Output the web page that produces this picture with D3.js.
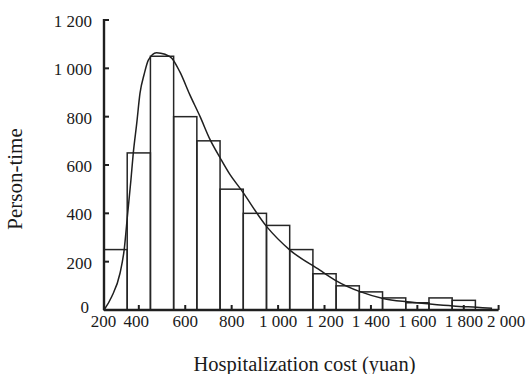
<!DOCTYPE html>
<html>
<head>
<meta charset="utf-8">
<script src="https://cdn.jsdelivr.net/npm/d3@7"></script>
<style>
  html, body { margin: 0; padding: 0; background: #fff; }
  svg { display: block; }
  text { font-family: "Liberation Serif", "Times New Roman", serif; fill: #1a1a1a; }
</style>
</head>
<body>
<svg id="chart" width="532" height="374" font-family="Liberation Serif, Times New Roman, serif"></svg>
<script>
// Histogram bins (lower edge, upper edge) and counts
const binStarts = [250, 350, 450, 550, 650, 750, 850, 950, 1050, 1150, 1250, 1350, 1450, 1550, 1650, 1750];
const binEnds   = [350, 450, 550, 650, 750, 850, 950, 1050, 1150, 1250, 1350, 1450, 1550, 1650, 1750, 1850];
const counts    = [250, 650, 1050, 800, 700, 500, 400, 350, 250, 150, 100, 75, 50, 30, 50, 40];

// Fitted density curve
const curveX = [250, 283, 319, 337, 352, 366, 376, 391, 405, 424, 441, 476, 513, 543, 577, 620, 664, 707, 750, 793, 839, 951, 1051, 1180, 1245, 1353, 1452, 1555, 1654, 1754, 1856, 1922];
const curveY = [0, 55, 152, 250, 400, 538, 648, 772, 896, 979, 1034, 1065, 1058, 1041, 985, 890, 800, 705, 630, 560, 500, 345, 248, 165, 124, 76, 48, 34, 25, 17, 11, 7];

// Axis ticks and labels
const yTicks = [0, 200, 400, 600, 800, 1000, 1200];
const yTickLabels = ["0", "200", "400", "600", "800", "1 000", "1 200"];
const xTicks = [400, 600, 800, 1000, 1200, 1400, 1600, 1800];
const xLabelValues = [200, 400, 600, 800, 1000, 1200, 1400, 1600, 1800, 2000];
const xLabelTexts = ["200", "400", "600", "800", "1 000", "1 200", "1 400", "1 600", "1 800", "2 000"];

const xTitle = "Hospitalization cost (yuan)";
const yTitle = "Person-time";

const svg = d3.select("#chart");
const x = d3.scaleLinear().domain([250, 1950]).range([104, 498.6]);
const y = d3.scaleLinear().domain([0, 1200]).range([310, 20]);

const ink = "#1f1f1f";

// Bars
const bins = binStarts.map((s, i) => ({ s, e: binEnds[i], v: counts[i] }));
svg.append("g").selectAll("rect").data(bins).join("rect")
  .attr("x", d => x(d.s))
  .attr("y", d => y(d.v))
  .attr("width", d => x(d.e) - x(d.s))
  .attr("height", d => y(0) - y(d.v))
  .attr("fill", "none")
  .attr("stroke", "#262626")
  .attr("stroke-width", 1.5);

// Curve
const pts = curveX.map((cx, i) => [cx, curveY[i]]);
svg.append("path")
  .datum(pts)
  .attr("d", d3.line().x(d => x(d[0])).y(d => y(d[1])).curve(d3.curveMonotoneX))
  .attr("fill", "none")
  .attr("stroke", ink)
  .attr("stroke-width", 1.5);

// Y axis
const yAxis = svg.append("g").attr("transform", `translate(${x(250)},0)`);
yAxis.append("line").attr("x1", 0).attr("x2", 0).attr("y1", y(1200) - 1).attr("y2", y(0))
  .attr("stroke", ink).attr("stroke-width", 2.4);
yAxis.selectAll("line.tick").data(yTicks).join("line").attr("class", "tick")
  .attr("x1", 0).attr("x2", 5).attr("y1", d => y(d)).attr("y2", d => y(d))
  .attr("stroke", ink).attr("stroke-width", 2);
yAxis.selectAll("text").data(yTicks).join("text")
  .attr("x", d => d === 0 ? -15 : -12)
  .attr("y", d => d === 0 ? y(d) - 3 : y(d) + 1)
  .attr("dy", "0.35em")
  .attr("text-anchor", "end").attr("font-size", 17)
  .text((d, i) => yTickLabels[i]);

// X axis
const xAxis = svg.append("g").attr("transform", `translate(0,${y(0)})`);
xAxis.append("line").attr("x1", x(250)).attr("x2", x(1950)).attr("y1", 0).attr("y2", 0)
  .attr("stroke", ink).attr("stroke-width", 2.4);
xAxis.selectAll("line.tick").data(xTicks.concat([1950])).join("line").attr("class", "tick")
  .attr("x1", d => x(d)).attr("x2", d => x(d)).attr("y1", 0).attr("y2", -5)
  .attr("stroke", ink).attr("stroke-width", 2);
xAxis.selectAll("text").data(xLabelValues).join("text")
  .attr("x", d => d === 200 ? x(250) - 0.5 : (d === 400 ? x(d) - 2.5 : x(d) - (d === 2000 ? 4 : 0)))
  .attr("y", 17)
  .attr("text-anchor", "middle").attr("font-size", 17)
  .text((d, i) => xLabelTexts[i]);

// Titles
svg.append("text").attr("x", 304.5).attr("y", 371)
  .attr("text-anchor", "middle").attr("font-size", 20.5).text(xTitle);
svg.append("text").attr("transform", "translate(22,179) rotate(-90)")
  .attr("text-anchor", "middle").attr("font-size", 21).text(yTitle);
</script>
</body>
</html>
